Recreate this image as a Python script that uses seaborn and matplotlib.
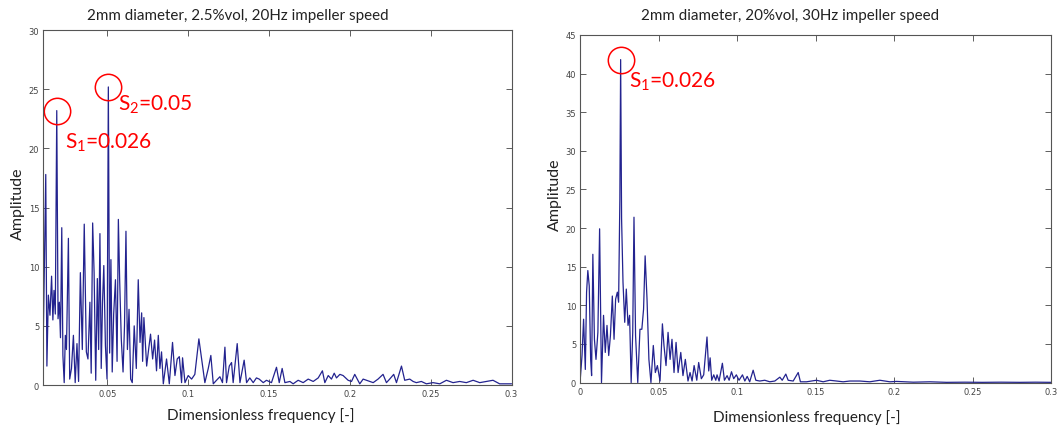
import matplotlib
matplotlib.use("Agg")
import matplotlib.pyplot as plt
import seaborn as sns
import pandas as pd

# ---------------- data ----------------
# Left panel: 2mm diameter, 2.5%vol, 20Hz impeller speed
freq_left = [
    0.0104, 0.0110, 0.0119, 0.0126, 0.0135, 0.0145, 0.0155, 0.0163, 0.0170, 0.0178,
    0.0187, 0.0195, 0.0203, 0.0210, 0.0218, 0.0225, 0.0233, 0.0240, 0.0247, 0.0259,
    0.0267, 0.0278, 0.0290, 0.0301, 0.0312, 0.0322, 0.0333, 0.0345, 0.0357, 0.0370,
    0.0380, 0.0392, 0.0400, 0.0409, 0.0418, 0.0428, 0.0438, 0.0446, 0.0454, 0.0462,
    0.0470, 0.0478, 0.0488, 0.0498, 0.0506, 0.0514, 0.0522, 0.0530, 0.0539, 0.0550,
    0.0560, 0.0568, 0.0576, 0.0586, 0.0597, 0.0606, 0.0615, 0.0624, 0.0634, 0.0644,
    0.0654, 0.0666, 0.0679, 0.0691, 0.0702, 0.0712, 0.0718, 0.0726, 0.0743, 0.0755,
    0.0767, 0.0780, 0.0792, 0.0804, 0.0815, 0.0825, 0.0835, 0.0846, 0.0866, 0.0883,
    0.0903, 0.0918, 0.0932, 0.0945, 0.0959, 0.0965, 0.0980, 0.1000, 0.1021, 0.1041,
    0.1066, 0.1083, 0.1103, 0.1124, 0.1140, 0.1155, 0.1175, 0.1196, 0.1212, 0.1227,
    0.1237, 0.1254, 0.1268, 0.1278, 0.1303, 0.1320, 0.1346, 0.1361, 0.1381, 0.1402,
    0.1422, 0.1439, 0.1464, 0.1484, 0.1515, 0.1546, 0.1563, 0.1581, 0.1598, 0.1629,
    0.1649, 0.1680, 0.1711, 0.1742, 0.1773, 0.1804, 0.1830, 0.1845, 0.1866, 0.1886,
    0.1903, 0.1917, 0.1938, 0.1958, 0.1989, 0.2010, 0.2030, 0.2061, 0.2082, 0.2102,
    0.2144, 0.2174, 0.2205, 0.2226, 0.2246, 0.2271, 0.2288, 0.2319, 0.2339, 0.2370,
    0.2391, 0.2411, 0.2442, 0.2473, 0.2514, 0.2556, 0.2597, 0.2638, 0.2679, 0.2720,
    0.2762, 0.2803, 0.2844, 0.2885, 0.2926, 0.3000,
]
amp_left = [
    4.3, 9.5, 17.8, 1.6, 7.6, 5.9, 9.2, 5.5, 8.0, 6.0,
    23.2, 5.6, 7.0, 4.0, 13.3, 2.5, 0.2, 4.2, 3.0, 12.4,
    0.5, 1.4, 4.2, 0.2, 3.5, 0.3, 9.5, 3.0, 13.6, 2.8,
    2.2, 7.0, 1.0, 13.7, 9.5, 0.4, 9.0, 3.0, 12.8, 1.4,
    7.0, 10.1, 3.3, 0.5, 25.2, 2.7, 10.6, 1.1, 6.0, 8.9,
    2.0, 14.0, 8.9, 3.9, 1.1, 5.0, 13.0, 3.0, 6.4, 0.5,
    0.2, 5.0, 1.4, 8.9, 3.6, 6.1, 2.0, 5.7, 1.6, 3.0,
    4.3, 2.2, 3.8, 1.2, 4.2, 1.4, 2.8, 0.1, 2.2, 0.1,
    3.6, 0.8, 2.2, 2.4, 0.2, 2.3, 0.2, 0.8, 0.5, 0.9,
    3.9, 2.2, 0.2, 1.4, 2.5, 0.1, 0.4, 0.7, 0.2, 3.2,
    0.2, 1.6, 1.9, 0.2, 3.5, 0.2, 2.1, 0.2, 0.6, 0.2,
    0.6, 0.5, 0.2, 0.4, 0.2, 1.5, 0.2, 1.4, 0.2, 0.3,
    0.1, 0.4, 0.2, 0.5, 0.3, 0.6, 1.2, 0.2, 0.8, 0.5,
    1.0, 0.6, 0.9, 0.8, 0.4, 0.3, 0.9, 0.1, 0.5, 0.4,
    0.2, 0.5, 0.9, 0.2, 0.5, 0.9, 0.2, 1.6, 0.4, 0.5,
    0.3, 0.2, 0.3, 0.1, 0.2, 0.1, 0.4, 0.2, 0.3, 0.2,
    0.4, 0.2, 0.3, 0.4, 0.1, 0.1,
]

# Right panel: 2mm diameter, 20%vol, 30Hz impeller speed
freq_right = [
    0.0000, 0.0011, 0.0021, 0.0032, 0.0040, 0.0048, 0.0057, 0.0066, 0.0072, 0.0080,
    0.0090, 0.0100, 0.0112, 0.0123, 0.0135, 0.0148, 0.0159, 0.0170, 0.0181, 0.0192,
    0.0204, 0.0215, 0.0225, 0.0236, 0.0244, 0.0252, 0.0257, 0.0263, 0.0272, 0.0283,
    0.0293, 0.0304, 0.0314, 0.0324, 0.0334, 0.0342, 0.0352, 0.0366, 0.0380, 0.0392,
    0.0403, 0.0413, 0.0425, 0.0437, 0.0450, 0.0465, 0.0478, 0.0491, 0.0508, 0.0523,
    0.0533, 0.0546, 0.0559, 0.0572, 0.0584, 0.0597, 0.0610, 0.0623, 0.0640, 0.0654,
    0.0669, 0.0686, 0.0699, 0.0712, 0.0725, 0.0742, 0.0754, 0.0771, 0.0786, 0.0807,
    0.0818, 0.0827, 0.0837, 0.0850, 0.0863, 0.0871, 0.0884, 0.0905, 0.0918, 0.0935,
    0.0948, 0.0963, 0.0977, 0.0994, 0.1011, 0.1033, 0.1048, 0.1063, 0.1079, 0.1101,
    0.1118, 0.1143, 0.1175, 0.1207, 0.1239, 0.1271, 0.1286, 0.1309, 0.1324, 0.1356,
    0.1388, 0.1402, 0.1441, 0.1504, 0.1547, 0.1589, 0.1632, 0.1674, 0.1717, 0.1781,
    0.1844, 0.1908, 0.1972, 0.2014, 0.2121, 0.2227, 0.2333, 0.2450, 0.2560, 0.2680,
    0.2800, 0.2900, 0.3000,
]
amp_right = [
    0.5, 3.5, 8.2, 1.7, 11.7, 14.5, 12.5, 3.0, 0.9, 16.6,
    5.6, 3.0, 6.5, 19.9, 0.0, 8.7, 3.9, 7.4, 3.5, 6.1,
    11.2, 5.6, 10.8, 11.7, 10.4, 23.7, 41.8, 21.2, 13.0, 7.8,
    12.1, 7.4, 8.7, 0.0, 6.5, 21.4, 6.1, 0.0, 6.9, 6.9,
    9.5, 16.4, 10.8, 3.0, 0.0, 4.8, 1.3, 2.2, 0.2, 7.6,
    4.8, 2.2, 6.5, 3.0, 5.6, 1.3, 5.2, 1.3, 3.9, 0.9,
    3.0, 0.2, 1.3, 0.2, 2.2, 0.3, 2.6, 0.5, 1.0, 5.9,
    1.5, 3.2, 0.3, 1.0, 0.3, 1.0, 0.2, 2.5, 0.3, 0.9,
    0.3, 1.4, 0.5, 1.0, 0.3, 1.0, 0.2, 0.8, 0.1, 1.6,
    0.3, 0.2, 0.3, 0.1, 0.2, 0.7, 0.3, 1.1, 0.3, 0.2,
    1.3, 0.1, 0.1, 0.3, 0.1, 0.3, 0.2, 0.1, 0.2, 0.2,
    0.1, 0.3, 0.1, 0.15, 0.05, 0.1, 0.03, 0.05, 0.03, 0.05,
    0.03, 0.05, 0.03,
]

titles = ["2mm diameter, 2.5%vol, 20Hz impeller speed",
          "2mm diameter, 20%vol, 30Hz impeller speed"]
xlabel = "Dimensionless frequency [-]"
ylabel = "Amplitude"
xticks_left = [0.05, 0.1, 0.15, 0.2, 0.25, 0.3]
xticks_right = [0, 0.05, 0.1, 0.15, 0.2, 0.25, 0.3]
yticks_left = [0, 5, 10, 15, 20, 25, 30]
yticks_right = [0, 5, 10, 15, 20, 25, 30, 35, 40, 45]

# annotation content: (peak freq, peak amp, label)
marks_left = [(0.0187, 23.2, "S$_1$=0.026"), (0.0506, 25.2, "S$_2$=0.05")]
marks_right = [(0.0257, 41.8, "S$_1$=0.026")]

# ---------------- style ----------------
sns.set_theme(style="white")
plt.rcParams["font.family"] = ["Lato", "DejaVu Sans"]
plt.rcParams["mathtext.default"] = "regular"

LINE = "#23238f"
TXT = "#222222"

fig = plt.figure(figsize=(10.57, 4.27), dpi=100)
ax1 = fig.add_axes([0.041, 0.096, 0.443, 0.831])
ax2 = fig.add_axes([0.549, 0.1017, 0.4456, 0.8143])

df_l = pd.DataFrame({"f": freq_left, "a": amp_left})
df_r = pd.DataFrame({"f": freq_right, "a": amp_right})

sns.lineplot(data=df_l, x="f", y="a", ax=ax1, color=LINE, linewidth=0.9,
             estimator=None, sort=False)
sns.lineplot(data=df_r, x="f", y="a", ax=ax2, color=LINE, linewidth=0.9,
             estimator=None, sort=False)

for ax, xl, xt, yt in [(ax1, (0.0104, 0.3), xticks_left, yticks_left),
                       (ax2, (0.0, 0.3), xticks_right, yticks_right)]:
    ax.set_xlim(*xl)
    ax.set_ylim(yt[0], yt[-1])
    ax.set_xticks(xt)
    ax.set_xticklabels([f"{v:g}" for v in xt])
    ax.set_yticks(yt)
    ax.set_yticklabels([f"{v:g}" for v in yt])
    ax.set_xlabel("")
    ax.set_ylabel("")
    ax.tick_params(direction="in", length=4, width=0.6, top=True, right=True,
                   bottom=True, left=True, labelsize=6, labelcolor="#444444",
                   color="#444444", pad=3)
    for lab in ax.get_xticklabels() + ax.get_yticklabels():
        lab.set_family("DejaVu Sans")
    for s in ax.spines.values():
        s.set_color("#555555")
        s.set_linewidth(0.8)
    ax.grid(False)

# annotations
def annotate(ax, marks, dx, dy):
    for (f, a, lab), ddx, ddy in zip(marks, dx, dy):
        ax.plot([f], [a], marker="o", ms=19, mfc="none", mec="red", mew=1.1,
                clip_on=False)
        ax.text(f + ddx, a + ddy, lab, color="red", fontsize=15, va="center",
                ha="left")

annotate(ax1, marks_left, [0.0051, 0.0060], [-2.6, -1.4])
annotate(ax2, marks_right, [0.0051], [-2.8])

# titles and labels
fig.text(0.225, 0.9625, titles[0], ha="center", va="center", fontsize=10.9, color=TXT)
fig.text(0.747, 0.9625, titles[1], ha="center", va="center", fontsize=10.9, color=TXT)
fig.text(0.247, 0.028, xlabel, ha="center", va="center", fontsize=11, color=TXT)
fig.text(0.7635, 0.023, xlabel, ha="center", va="center", fontsize=11, color=TXT)
fig.text(0.017, 0.522, ylabel, ha="center", va="center", rotation=90, fontsize=11.5, color=TXT)
fig.text(0.525, 0.543, ylabel, ha="center", va="center", rotation=90, fontsize=11.5, color=TXT)

fig.savefig("out.png", dpi=100)
